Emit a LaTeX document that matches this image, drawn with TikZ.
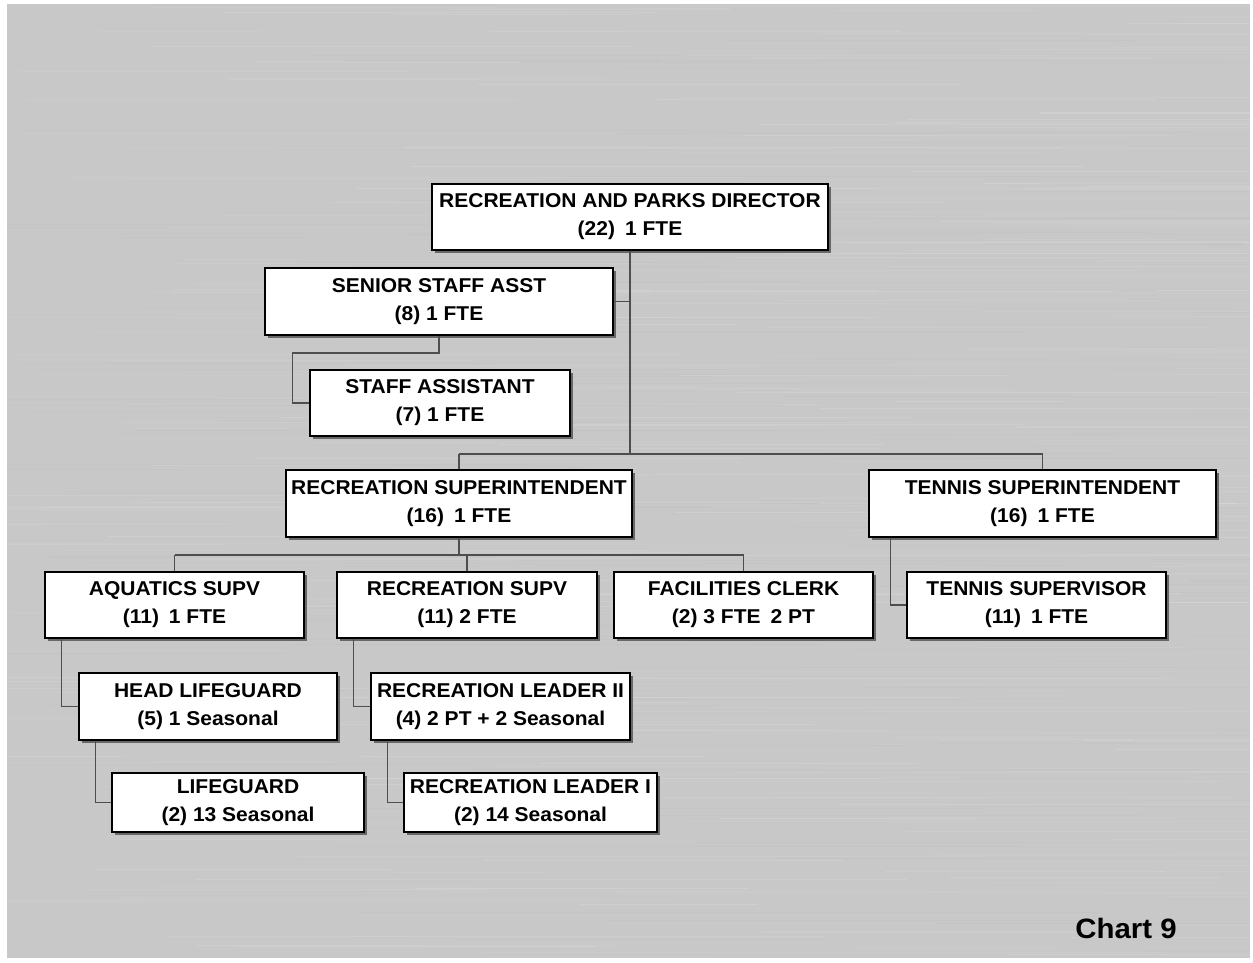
\documentclass[tikz,border=0pt]{standalone}
\usepackage{fontspec}
\setmainfont{Liberation Sans}[FakeStretch=1.05]
\usetikzlibrary{shadows,calc}
\definecolor{bg}{HTML}{C8C8C8}
\definecolor{ln}{HTML}{4E4E4E}
\tikzset{
  box/.style={draw=black, line width=0.8pt, fill=white, align=center, inner sep=0pt,
    font=\bfseries\fontsize{15}{21}\selectfont,
    drop shadow={shadow xshift=2pt, shadow yshift=-2pt, fill=black!80, opacity=0.65}},
  conn/.style={draw=ln, line width=0.9pt},
  hilite/.style={draw=white, line width=0.7pt, opacity=0.9}
}
\newcommand\orgconnectors{%
  \path (dir.south) -- (b1);
  \path (dir.south |- ssa.east) -- (ssa.east);
  \path (b1 -| rsup.north) -- (b1 -| tsup.north);
  \path (b1 -| rsup.north) -- (rsup.north);
  \path (b1 -| tsup.north) -- (tsup.north);
  \path (rsup.south) -- (rsup.south |- b2);
  \path (b2 -| aq.north) -- (b2 -| fc.north);
  \path (b2 -| aq.north) -- (aq.north);
  \path (b2 -| rs.north) -- (rs.north);
  \path (b2 -| fc.north) -- (fc.north);
  \path (ssa.south) |- ($(sa.west)+(-17,-50)$) |- (sa.west);
  \path ($(aq.south west)+(17,0)$) |- (hl.west);
  \path ($(hl.south west)+(17,0)$) |- (lg.west);
  \path ($(rs.south west)+(17,0)$) |- (rl2.west);
  \path ($(rl2.south west)+(17,0)$) |- (rl1.west);
  \path ($(tsup.south west)+(22,0)$) |- (ts.west);
}
\begin{document}
\begin{tikzpicture}[x=0.75pt,y=-0.75pt]
% canvas
\useasboundingbox (0,0) rectangle (1253,963);
\fill[white] (0,0) rectangle (1253,963);
\fill[bg] (7,4) rectangle (1250,958);
\begin{scope}
  \clip (7,4) rectangle (1250,958);
  \pgfmathsetseed{7}
  \foreach \i in {1,...,600}{
    \pgfmathsetmacro\yy{4+954*rnd}
    \pgfmathsetmacro\xx{-100+1300*rnd}
    \pgfmathsetmacro\ll{150+600*rnd}
    \pgfmathsetmacro\cc{int(70+25*rnd)}
    \draw[white!\cc!black, opacity=0.18, line width=0.8pt] (\xx,\yy) -- ++(\ll,0);
  }
\end{scope}

% nodes
\node[box, minimum width=297pt, minimum height=49.5pt] (dir) at (630,217) {RECREATION AND PARKS DIRECTOR\\(22)\enspace 1 FTE};
\node[box, minimum width=261pt, minimum height=50.25pt] (ssa) at (439,301.5) {SENIOR STAFF ASST\\(8) 1 FTE};
\node[box, minimum width=195pt, minimum height=49.5pt] (sa) at (440,403) {STAFF ASSISTANT\\(7) 1 FTE};
\node[box, minimum width=259.5pt, minimum height=50.25pt] (rsup) at (459,503.5) {RECREATION SUPERINTENDENT\\(16)\enspace 1 FTE};
\node[box, minimum width=260.25pt, minimum height=50.25pt] (tsup) at (1042.5,503.5) {TENNIS SUPERINTENDENT\\(16)\enspace 1 FTE};
\node[box, minimum width=194.25pt, minimum height=49.5pt] (aq) at (174.5,605) {AQUATICS SUPV\\(11)\enspace 1 FTE};
\node[box, minimum width=195pt, minimum height=49.5pt] (rs) at (467,605) {RECREATION SUPV\\(11) 2 FTE};
\node[box, minimum width=194.25pt, minimum height=49.5pt] (fc) at (743.5,605) {FACILITIES CLERK\\(2) 3 FTE\enspace 2 PT};
\node[box, minimum width=194.25pt, minimum height=49.5pt] (ts) at (1036.5,605) {TENNIS SUPERVISOR\\(11)\enspace 1 FTE};
\node[box, minimum width=193.5pt, minimum height=50.25pt] (hl) at (208,706.5) {HEAD LIFEGUARD\\(5) 1 Seasonal};
\node[box, minimum width=194.25pt, minimum height=50.25pt] (rl2) at (500.5,706.5) {RECREATION LEADER II\\(4) 2 PT + 2 Seasonal};
\node[box, minimum width=189pt, minimum height=44.25pt] (lg) at (238,802.5) {LIFEGUARD\\(2) 13 Seasonal};
\node[box, minimum width=189.75pt, minimum height=44.25pt] (rl1) at (530.5,802.5) {RECREATION LEADER I\\(2) 14 Seasonal};

\node[font=\bfseries\fontsize{21}{24}\selectfont] (chart) at (1126,928) {Chart 9};

\coordinate (b1) at (630,454);
\coordinate (b2) at (460,555);

\begin{scope}[shift={(1.2,1.2)}, every path/.style={hilite}]
  \orgconnectors
\end{scope}
\begin{scope}[every path/.style={conn}]
  \orgconnectors
\end{scope}
\end{tikzpicture}
\end{document}
